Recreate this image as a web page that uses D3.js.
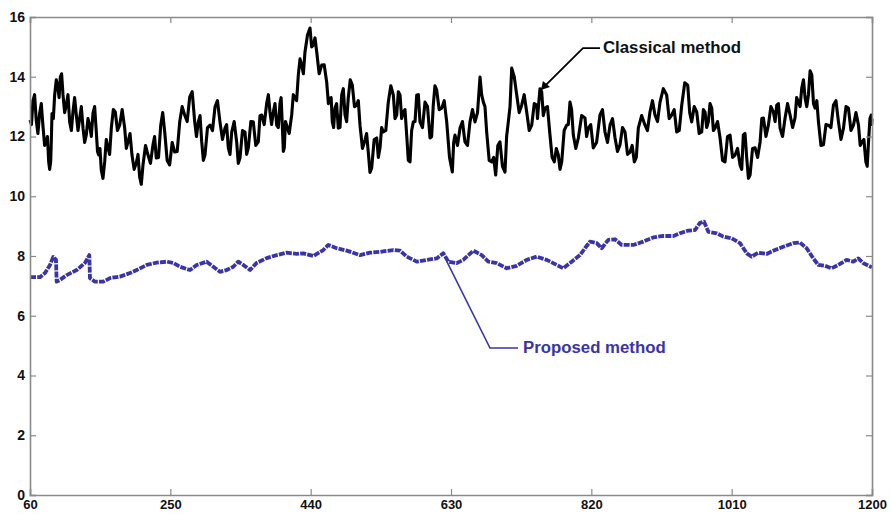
<!DOCTYPE html>
<html><head><meta charset="utf-8">
<script src="https://cdn.jsdelivr.net/npm/d3@7"></script>
<style>body{margin:0;background:#fff}svg{display:block}</style>
</head><body>
<svg id="chart" width="891" height="515"></svg>
<script>
const xTicks = [60, 250, 440, 630, 820, 1010, 1200];
const yTicks = [0, 2, 4, 6, 8, 10, 12, 14, 16];

// Classical method: main trace
const classicalX = [60,64,68.5,73,77.6,82,85.3,88,89.8,93.4,97.9,101,104.7,109.1,113.7,118.2,122.7,127.3,131.8,136.2,140.8,145.3,149.8,153,156.5,161.1,165.6,170.1,175.5,181.4,188.2,192.7,198.1,203.9,208.5,213,219.8,226.5,231,237,242.4,249.1,255.9,262.7,269.4,276.2,283,287.9,292.5,296.9,303.7,310.5,317.2,324,328.5,333.1,339.8,344.3,351.1,355.6,362.3,369.1,373.7,380.5,384.9,389.4,394,398.5,401.6,404.3,407.5,414.3,418.8,423.3,427.9,432.3,439.1,443.6,448.2,454.9,461.7,466.2,469.3,472.9,477.4,482,486.5,490.9,496.4,502.3,506.8,513.5,518,522.6,529.4,533.9,538.3,545.1,551.9,556.5,561,565.4,570,574.5,579,583.6,588,594.8,601.6,606,610.6,617.4,624.2,631.8,635.4,642.2,648.9,655.7,662.5,669.3,673.8,678.3,685.1,690.5,696.3,703.1,707.6,712.2,719,725.7,732.5,739.3,746.1,748.2,752.8,757.3,764,769.9,775.3,779.9,786.6,791.1,795.6,802.4,811.4,815.9,822.6,831.7,838.5,845.3,852.1,858.8,865.6,872.4,878.2,883.6,892.7,899.4,906.2,913,922,928.8,935.6,942.4,950.5,955.9,962.7,969.4,973.9,978.4,983,987.5,994.3,1001,1007.8,1014.6,1021.3,1025.8,1030.4,1034.9,1041.7,1048.5,1053,1059.7,1066.5,1071,1075.5,1082.3,1089.1,1095.8,1100.3,1104.9,1109.4,1113.9,1118.5,1123,1127.5,1134.3,1141,1147.8,1154.6,1161.4,1168.1,1174.9,1181.7,1186.3,1191.7,1195.3,1199,1200];
const classicalY = [12.55,13.20,12.53,12.77,12.33,11.82,11.15,11.15,12.77,13.39,13.62,13.99,13.39,13.05,12.49,12.83,12.72,12.62,12.28,12.05,12.38,12.78,12.15,11.38,10.88,11.15,11.62,12.28,12.82,12.38,12.28,11.82,11.38,11.11,10.64,11.05,11.38,11.72,11.28,12.38,12.15,11.05,11.48,12.49,12.72,13.32,12.49,12.49,11.82,11.38,12.38,12.99,12.49,12.28,11.62,12.15,11.82,11.28,12.15,11.62,12.49,11.82,12.72,13.12,12.82,12.82,12.38,13.12,12.38,11.62,12.38,12.72,13.29,14.06,14.39,14.83,15.63,15.06,14.83,14.39,13.82,13.29,12.49,12.95,12.28,13.39,12.72,13.29,13.72,13.05,12.38,11.88,11.48,10.95,11.95,11.62,12.15,13.15,13.39,12.72,13.39,12.82,12.05,11.15,12.49,13.39,12.49,13.15,11.95,13.05,13.56,12.95,12.49,10.81,12.05,12.28,11.82,12.49,12.49,13.99,13.15,12.15,11.15,10.71,11.82,10.81,12.49,14.29,13.39,13.05,12.82,12.38,13.05,12.95,13.49,12.95,12.05,11.15,11.38,11.15,12.38,13.15,12.05,11.95,12.62,12.28,11.62,12.72,12.15,12.38,11.95,11.72,12.15,11.48,11.15,12.28,12.38,12.82,12.72,13.15,13.39,12.72,12.15,13.05,13.72,12.49,12.82,12.15,12.82,12.49,12.95,12.28,11.95,11.15,12.05,11.38,11.05,12.05,11.28,10.71,11.62,11.82,12.62,12.38,12.82,13.05,12.28,12.62,12.72,12.62,13.15,13.62,13.29,13.39,14.06,12.95,12.49,11.72,12.38,13.05,12.49,12.28,12.95,12.38,12.38,11.82,11.15,11.82,12.72,12.6];
// Classical method: short spikes read between the trace points
const classicalSpikeX = [62,66.2,70.7,75.3,79.8,83.6,86.6,88.9,91.6,95.6,99.4,102.8,106.9,111.4,116,120.4,125,129.5,134,138.5,143,147.5,151.4,154.7,158.8,163.3,167.8,172.8,178.4,184.8,190.4,195.4,201,206.2,210.7,216.4,223.1,228.7,234,239.7,245.7,252.5,259.3,266,272.8,279.6,285.4,290.2,294.7,300.3,307.1,313.8,320.6,326.2,330.8,336.4,342,347.7,353.3,359,365.7,371.4,377.1,382.7,387.1,391.7,396.2,400,403,405.9,410.9,416.5,421,425.6,430.1,435.7,441.3,445.9,451.5,458.3,464,467.7,471.1,475.1,479.7,484.2,488.7,493.6,499.3,504.5,510.1,515.7,520.3,526,531.6,536.1,541.7,548.5,554.2,558.7,563.2,567.7,572.2,576.7,581.3,585.8,591.4,598.2,603.8,608.3,614,620.8,628,633.6,638.8,645.5,652.3,659.1,665.9,671.5,676,681.7,687.8,693.4,699.7,705.3,709.9,715.6,722.3,729.1,735.9,742.7,747.1,750.5,755,760.6,766.9,772.6,777.6,783.2,788.8,793.3,799,806.9,813.6,819.2,827.1,835.1,841.9,848.7,855.4,862.2,869,875.3,880.9,888.1,896,902.8,909.6,917.5,925.4,932.2,939,946.5,953.2,959.3,966,971.7,976.2,980.7,985.3,990.9,997.7,1004.4,1011.2,1018,1023.6,1028.1,1032.7,1038.3,1045.1,1050.8,1056.4,1063.1,1068.8,1073.3,1078.9,1085.7,1092.5,1098,1102.6,1107.2,1111.7,1116.2,1120.8,1125.3,1130.9,1137.7,1144.4,1151.2,1158,1164.8,1171.5,1178.3,1184,1189,1193.5,1197.2,1199.5];
const classicalSpikeY = [12.4,13.4,12.1,13.1,11.7,12.0,10.9,11.9,12.6,13.9,13.3,14.1,12.8,13.4,12.2,13.3,12.2,13.0,11.8,12.6,12.0,13.0,11.5,11.6,10.6,11.9,11.4,12.9,12.2,12.9,11.6,12.1,10.9,11.4,10.4,11.7,11.1,12.0,11.3,12.8,11.2,11.8,11.5,13.0,12.5,13.5,12.0,12.7,11.2,12.3,12.2,13.2,11.9,12.4,11.4,12.5,11.1,12.2,11.4,12.5,11.7,12.7,12.4,13.4,12.4,13.1,12.3,13.3,11.5,12.5,12.1,13.4,13.2,14.6,14.1,15.4,15.0,15.3,14.1,14.4,13.1,13.3,12.3,13.1,12.3,13.6,12.5,13.9,13.0,13.2,11.6,12.1,10.8,11.9,11.3,12.3,12.2,13.7,12.6,13.5,12.6,12.9,11.2,12.2,12.5,13.4,12.3,13.0,12.0,13.7,12.9,13.2,11.3,11.8,11.7,12.5,11.7,12.9,12.8,13.4,13.0,11.2,11.3,11.7,11.0,12.0,13.0,14.0,12.8,13.4,12.2,13.1,12.6,13.6,12.7,13.0,11.3,11.6,10.9,12.2,12.4,12.9,11.6,12.7,12.0,12.4,11.8,12.9,11.8,12.6,11.5,12.3,11.4,11.7,11.3,12.7,12.2,13.2,12.5,13.6,12.6,12.9,12.2,13.8,12.8,13.0,12.1,12.9,12.3,13.1,12.2,12.5,11.2,12.0,11.3,11.6,10.9,12.1,10.6,11.6,11.3,12.6,12.0,13.0,12.5,13.1,12.0,13.1,12.3,13.3,13.0,13.9,13.0,14.2,13.1,13.2,11.7,12.4,12.3,13.2,11.9,13.0,12.2,12.8,11.7,11.9,11.0,12.6,12.4];

const proposedX = [60,73.5,80.3,87.1,91.5,95.2,96.1,100.6,109.7,123.2,134.5,140.3,141.2,148,159.2,168.3,181.9,195.4,204.5,218,231.5,245.1,254,263.1,276.6,285.7,299.2,308.2,317.2,326.3,335.2,342,348.8,357.9,366.9,380.5,394,407.5,421.1,430,443.6,457.1,463.9,475.2,488.8,506.8,520.3,533.9,551.9,561,570,583.6,597.1,610.6,619.6,626.3,637.7,646.6,660.2,671.6,680.5,691.9,705.4,718.9,732.5,746.1,759.6,773.1,782.1,793.4,804.6,811.4,818.2,827.3,834,843,852,861.1,876.8,890.3,903.9,917.4,931,940,951.3,960.4,967.1,972.6,978.4,989.7,998.7,1010,1021.3,1030.4,1037.1,1046.1,1057.4,1068.7,1079.9,1093.4,1102.5,1111.5,1120.5,1127.3,1136.4,1145.4,1154.4,1165.7,1174.7,1181.5,1188.3,1193.4,1200];
const proposedY = [7.29,7.29,7.43,7.70,7.97,7.87,7.14,7.20,7.36,7.53,7.77,8.03,7.26,7.14,7.14,7.26,7.31,7.43,7.53,7.70,7.78,7.81,7.77,7.64,7.53,7.70,7.81,7.64,7.47,7.53,7.64,7.81,7.70,7.53,7.77,7.93,8.03,8.11,8.07,8.09,8.00,8.20,8.37,8.26,8.18,8.03,8.11,8.14,8.20,8.18,7.98,7.81,7.87,7.92,8.09,7.81,7.76,7.87,8.18,8.03,7.81,7.76,7.59,7.67,7.87,7.98,7.87,7.70,7.59,7.81,8.03,8.26,8.48,8.43,8.26,8.54,8.56,8.37,8.37,8.48,8.62,8.67,8.67,8.76,8.85,8.87,9.11,9.15,8.81,8.76,8.65,8.59,8.43,8.09,7.98,8.11,8.07,8.20,8.31,8.43,8.45,8.26,7.92,7.70,7.67,7.59,7.70,7.87,7.81,7.92,7.76,7.70,7.62];

const svg = d3.select('#chart');
const m = {left: 30, right: 19, top: 17, bottom: 20};
const W = 891, H = 515;
const x = d3.scaleLinear().domain([60, 1200]).range([m.left, W - m.right]);
const y = d3.scaleLinear().domain([0, 16]).range([H - m.bottom, m.top]);
const axisColor = '#8a8a8a';
const font = 'Arial, "Liberation Sans", sans-serif';
const blue = '#3a34a6';

// data lines
const line = d3.line().x(d => x(d[0])).y(d => y(d[1]));
const classical = classicalX.map((v, i) => [v, classicalY[i]])
  .concat(classicalSpikeX.map((v, i) => [v, classicalSpikeY[i]]))
  .sort((a, b) => a[0] - b[0]);
svg.append('path')
  .datum(classical)
  .attr('d', line).attr('fill', 'none').attr('stroke', '#000')
  .attr('stroke-width', 3.1).attr('stroke-linejoin', 'round');
svg.append('path')
  .datum(proposedX.map((v, i) => [v, proposedY[i]]))
  .attr('d', line).attr('fill', 'none').attr('stroke', blue)
  .attr('stroke-width', 3.8).attr('stroke-dasharray', '6,1.2').attr('stroke-linejoin', 'round');

// frame & axes
const gx = svg.append('g').attr('transform', `translate(0,${y(0)})`)
  .call(d3.axisBottom(x).tickValues(xTicks).tickSize(-6).tickPadding(5).tickFormat(d3.format('d')));
const gxTop = svg.append('g').attr('transform', `translate(0,${y(16)})`)
  .call(d3.axisTop(x).tickValues(xTicks).tickSize(-6).tickFormat(''));
const gy = svg.append('g').attr('transform', `translate(${x(60)},0)`)
  .call(d3.axisLeft(y).tickValues(yTicks).tickSize(-6).tickPadding(5).tickFormat(d3.format('d')));
const gyR = svg.append('g').attr('transform', `translate(${x(1200)},0)`)
  .call(d3.axisRight(y).tickValues(yTicks).tickSize(-6).tickFormat(''));
[gx, gxTop, gy, gyR].forEach(g => {
  g.selectAll('.domain').attr('stroke', axisColor).attr('stroke-width', 1.6);
  g.selectAll('.tick line').attr('stroke', axisColor).attr('stroke-width', 1.2);
  g.selectAll('.tick text').attr('fill', '#111').attr('font-family', font)
    .attr('font-weight', 'bold').attr('font-size', 13);
});
gy.selectAll('.tick text').attr('font-size', 14);

// annotations
svg.append('path')
  .attr('d', `M${x(751.8)},${y(13.56)} L${x(808.7)},${y(14.96)} L${x(831.7)},${y(14.96)}`)
  .attr('fill', 'none').attr('stroke', '#000').attr('stroke-width', 1.8);
svg.append('path')
  .attr('d', `M${x(751.8)},${y(13.56)} l2,-9 l7,6 z`)
  .attr('fill', '#000');
svg.append('text').attr('x', x(835.8)).attr('y', y(14.96) + 5)
  .attr('font-family', font).attr('font-size', 16.8).attr('font-weight', 'bold')
  .attr('fill', '#111').text('Classical method');

svg.append('path')
  .attr('d', `M${x(624.6)},${y(7.8)} L${x(682.8)},${y(4.92)} L${x(720.7)},${y(4.92)}`)
  .attr('fill', 'none').attr('stroke', blue).attr('stroke-width', 1.6);
svg.append('text').attr('x', x(727.5)).attr('y', y(4.92) + 5)
  .attr('font-family', font).attr('font-size', 16.8).attr('font-weight', 'bold')
  .attr('fill', blue).text('Proposed method');
</script>
</body></html>
